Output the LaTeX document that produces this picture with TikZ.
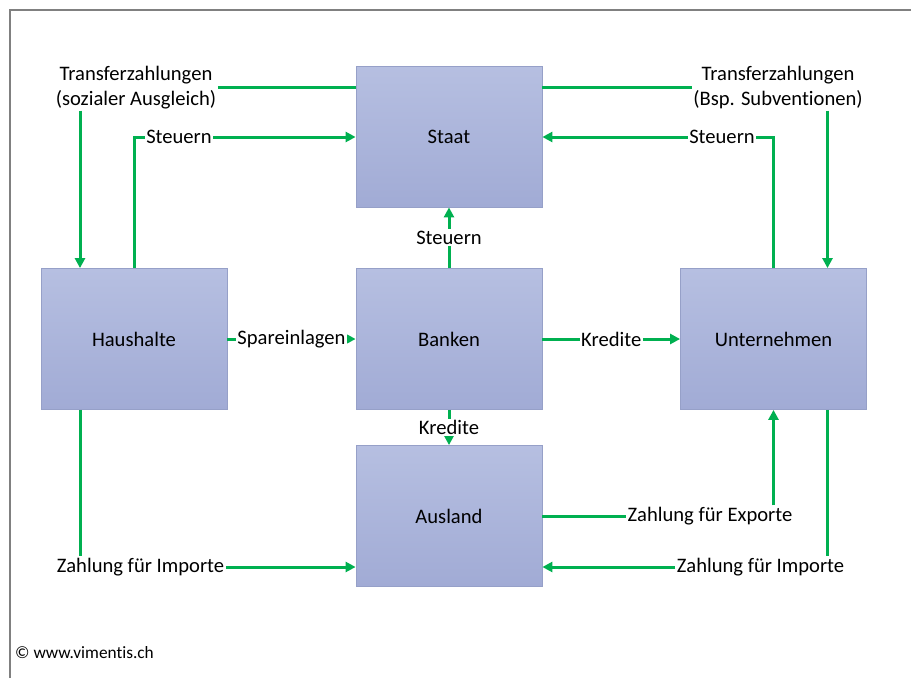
\documentclass[tikz,border=0pt]{standalone}
\usepackage{fontspec}
\setmainfont{Carlito}[Ligatures=NoCommon]
\usetikzlibrary{arrows.meta,calc}
\definecolor{flowgreen}{RGB}{0,176,80}
\definecolor{boxtop}{RGB}{182,191,225}
\definecolor{boxbot}{RGB}{161,171,213}
\definecolor{boxline}{RGB}{150,160,200}

\begin{document}
\begin{tikzpicture}[x=1pt,y=-1pt,
	sector/.style={rectangle,draw=boxline,line width=0.8pt,top color=boxtop,bottom color=boxbot,
		minimum width=186pt,minimum height=141pt,font=\fontsize{20.6}{24}\selectfont},
	lbl/.style={font=\fontsize{20.6}{25}\selectfont,text=black,inner sep=1.5pt,align=center},
	flow/.style={flowgreen,line width=3pt},
	tip/.style={-{Triangle[length=10pt,width=10pt]}}]

	\useasboundingbox (0,0) rectangle (911,678);
	\draw[gray,line width=2pt] (10,678) -- (10,10) -- (911,10);

	% sectors
	\node[sector] (staat) at (449,136.5) {Staat};
	\node[sector] (haus) at (134,339) {Haushalte};
	\node[sector] (bank) at (449,339) {Banken};
	\node[sector] (unt) at (773.5,339) {Unternehmen};
	\node[sector] (aus) at (449,516) {Ausland};

	\coordinate (hausT) at ([xshift=-54pt]haus.north);
	\coordinate (hausB) at ([xshift=-54pt]haus.south);
	\coordinate (untT) at ([xshift=54pt]unt.north);
	\coordinate (untB) at ([xshift=54pt]unt.south);

	% labels
	\node[lbl] (transL) at (136,87.5) {Transferzahlungen\\(sozialer Ausgleich)};
	\node[lbl] (transR) at (778,87.5) {Transferzahlungen\\(Bsp. Subventionen)};
	\node[lbl] (steuL) at (179,137) {Steuern};
	\node[lbl] (steuR) at (722,137) {Steuern};
	\node[lbl] (impL) at (140.5,567) {Zahlung für Importe};
	\node[lbl] (expR) at (710,516) {Zahlung für Exporte};
	\node[lbl] (impR) at (760.5,567) {Zahlung für Importe};

	% flows round the Staat
	\draw[flow] (transL.east) -- (transL.east -| staat.west);
	\draw[flow,tip] (transL.south -| hausT) -- (hausT);
	\draw[flow] (haus.north) |- (steuL.west);
	\draw[flow,tip] (steuL.east) -- (steuL.east -| staat.west);
	\draw[flow] (transR.west -| staat.east) -- (transR.west);
	\draw[flow,tip] (transR.south -| untT) -- (untT);
	\draw[flow] (unt.north) |- (steuR.east);
	\draw[flow,tip] (steuR.west) -- (steuR.west -| staat.east);

	% flows through the Banken
	\draw[flow,tip] (haus) -- node[lbl,fill=white] (spar) {Spareinlagen} (bank);
	\draw[flow,tip] (bank) -- node[lbl,fill=white] (kredR) {Kredite} (unt);
	\draw[flow,tip] (bank) -- node[lbl,fill=white] (steuM) {Steuern} (staat);
	\draw[flow,tip] (bank) -- node[lbl,fill=white] (kredM) {Kredite} (aus);

	% flows with the Ausland
	\draw[flow] (hausB) -- (impL.north -| hausB);
	\draw[flow,tip] (impL.east) -- (impL.east -| aus.west);
	\draw[flow] (expR.west -| aus.east) -- (expR.west);
	\draw[flow,tip] (expR.north -| unt.south) -- (unt.south);
	\draw[flow] (untB) -- (impR.north -| untB);
	\draw[flow,tip] (impR.west) -- (impR.west -| aus.east);

	\node[anchor=west,font=\fontsize{17.3}{20}\selectfont,inner sep=0pt] (copy) at (15,653) {© www.vimentis.ch};

\end{tikzpicture}
\end{document}
